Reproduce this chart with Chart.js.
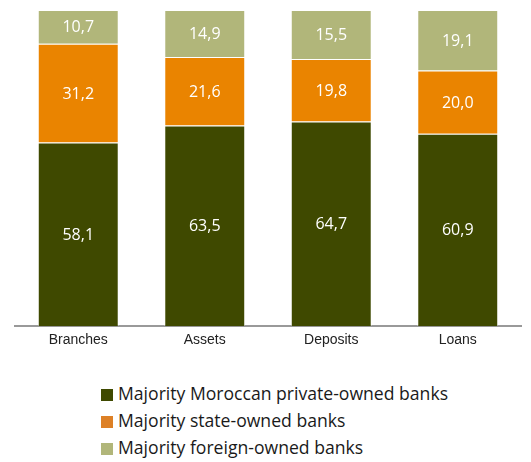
<!DOCTYPE html>
<html>
<head>
<meta charset="utf-8">
<script src="https://cdn.jsdelivr.net/npm/chart.js@4"></script>
<style>
  body { margin: 0; background: #fff; width: 531px; height: 462px; position: relative; overflow: hidden; }
  #wrap { position: absolute; left: 0; top: 0; width: 531px; height: 355px; }
  #legend { position: absolute; left: 101px; top: 380px; font-family: "Open Sans", sans-serif; font-size: 17.6px; color: #1a1a1a; }
  #legend div { height: 27px; line-height: 27px; white-space: nowrap; }
  #legend span { display: inline-block; width: 12px; height: 12px; margin-right: 5px; vertical-align: -1px; }
</style>
</head>
<body>
<div id="wrap"><canvas id="barchart"></canvas></div>
<div id="legend"></div>
<script>
// data (percent shares)
var categories = ['Branches', 'Assets', 'Deposits', 'Loans'];
var privateBanks = [58.1, 63.5, 64.7, 60.9];
var stateBanks = [31.2, 21.6, 19.8, 20.0];
var foreignBanks = [10.7, 14.9, 15.5, 19.1];
var seriesNames = ['Majority Moroccan private-owned banks', 'Majority state-owned banks', 'Majority foreign-owned banks'];
var colors = ['#3f4900', '#ea8400', '#b1b67a'];
var legendColors = ['#3f4900', '#dd8026', '#b1b67a'];

// writes the value in the middle of each bar segment
var valueLabels = {
    id: 'valueLabels',
    afterDatasetsDraw: function(chart) {
        var ctx = chart.ctx;
        ctx.save();
        ctx.font = '16px "Open Sans", sans-serif';
        ctx.fillStyle = '#ffffff';
        ctx.textAlign = 'center';
        ctx.textBaseline = 'middle';
        chart.data.datasets.forEach(function(ds, i) {
            chart.getDatasetMeta(i).data.forEach(function(bar, j) {
                var p = bar.getProps(['x', 'y', 'base'], true);
                ctx.fillText(ds.data[j].toFixed(1).replace('.', ','), p.x, (p.y + p.base) / 2 + 1);
            });
        });
        ctx.restore();
    }
};

document.addEventListener('DOMContentLoaded', function() {
    var ctx = document.getElementById('barchart').getContext('2d');
    var datasets = [privateBanks, stateBanks, foreignBanks].map(function(vals, i) {
        return {
            label: seriesNames[i],
            data: vals,
            backgroundColor: colors[i],
            borderColor: 'rgba(255,255,255,0.5)',
            borderWidth: 1,
            barPercentage: 0.64,
            categoryPercentage: 1
        };
    });
    new Chart(ctx, {
        type: 'bar',
        data: { labels: categories, datasets: datasets },
        options: {
            responsive: true,
            maintainAspectRatio: false,
            animation: false,
            layout: { padding: { left: 15, right: 10, top: 10, bottom: 0 } },
            plugins: { legend: { display: false }, tooltip: { enabled: false } },
            scales: {
                x: {
                    stacked: true,
                    grid: { display: false, drawTicks: false },
                    border: { display: true, color: '#999999', width: 2 },
                    ticks: { color: '#222222', padding: 6, font: { family: 'Liberation Sans', size: 14 } }
                },
                y: {
                    stacked: true,
                    display: false,
                    min: 0,
                    max: 100
                }
            }
        },
        plugins: [valueLabels]
    });

    var legend = document.getElementById('legend');
    seriesNames.forEach(function(name, i) {
        var row = document.createElement('div');
        row.innerHTML = '<span style="background:' + legendColors[i] + '"></span>' + name;
        legend.appendChild(row);
    });
});
</script>
</body>
</html>
